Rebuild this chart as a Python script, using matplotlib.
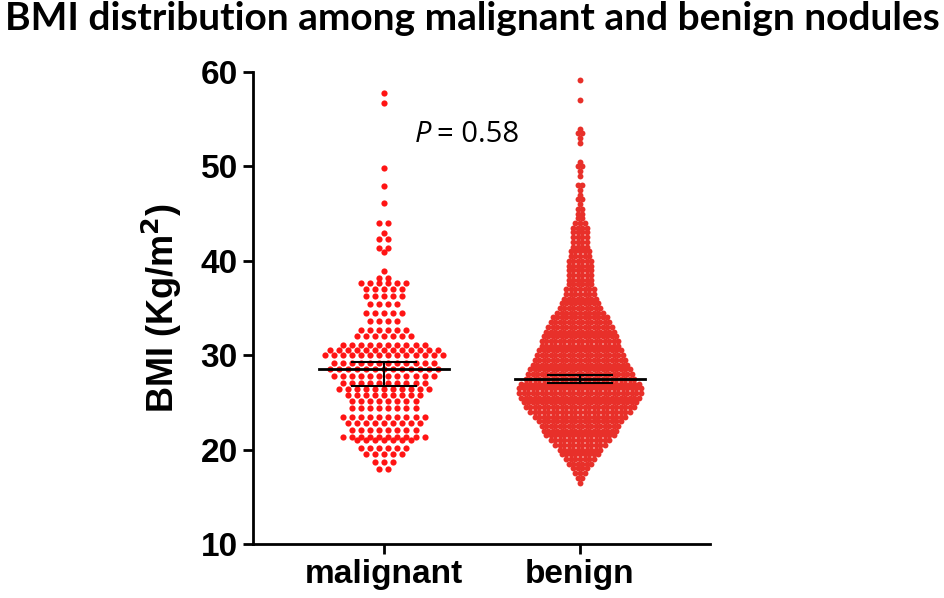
import numpy as np
from matplotlib import pyplot as plt

groups = ['malignant', 'benign']

malignant_bmi = [57.8, 56.7, 49.8, 47.9, 46.1, 44.0, 42.9, 42.3, 41.4, 40.9, 38.9, 38.2,
                 37.6, 37.0, 36.3, 35.4, 34.5, 33.6, 32.7, 32.0, 31.1, 30.6, 30.0, 29.2,
                 28.5, 27.8, 27.1, 26.4, 25.8, 25.1, 24.4, 23.5, 22.8, 22.1, 21.3, 21.0,
                 20.2, 19.5, 18.7, 17.9]
malignant_n = [1, 1, 1, 1, 1, 2, 1, 2, 2, 1, 1, 2,
               6, 5, 5, 4, 5, 4, 6, 7, 10, 13, 14, 12,
               13, 12, 10, 11, 9, 8, 8, 10, 9, 8, 10, 7,
               6, 5, 3, 2]

benign_bmi = [16.5, 17.0, 17.5, 18.0, 18.5, 19.0, 19.5, 20.0, 20.5, 21.0, 21.5, 22.0,
              22.5, 23.0, 23.5, 24.0, 24.5, 25.0, 25.5, 26.0, 26.5, 27.0, 27.5, 28.0,
              28.5, 29.0, 29.5, 30.0, 30.5, 31.0, 31.5, 32.0, 32.5, 33.0, 33.5, 34.0,
              34.5, 35.0, 35.5, 36.0, 36.5, 37.0, 37.5, 38.0, 38.5, 39.0, 39.5, 40.0,
              40.5, 41.0, 41.5, 42.0, 42.5, 43.0, 43.5, 44.0, 44.5, 45.0, 45.5, 46.0,
              46.5, 47.0, 47.5, 48.0, 49.0, 49.5, 50.0, 50.5, 52.5, 53.0, 53.5, 54.0,
              57.0, 59.2]
benign_n = [1, 2, 3, 4, 6, 7, 9, 10, 12, 14, 16, 17,
            18, 19, 21, 23, 25, 26, 27, 28, 28, 27, 25, 24,
            23, 22, 21, 20, 19, 18, 18, 17, 16, 15, 14, 13,
            11, 10, 9, 8, 7, 7, 6, 6, 6, 6, 6, 6,
            5, 5, 4, 4, 4, 4, 4, 3, 2, 2, 2, 1,
            2, 1, 1, 2, 1, 1, 2, 1, 1, 1, 2, 1,
            1, 1]

# mean line and error bar (upper, lower) as drawn
means = [28.5, 27.5]
err_hi = [29.3, 27.85]
err_lo = [26.7, 27.1]

p_text = '= 0.58'


def rows_to_points(xc, levels, counts, step):
    xs, ys = [], []
    for y, n in zip(levels, counts):
        offs = (np.arange(n) - (n - 1) / 2.0) * step
        xs.extend(xc + offs)
        ys.extend([y] * n)
    return np.array(xs), np.array(ys)


fig = plt.figure(figsize=(9.45, 5.98), dpi=100)
ax = fig.add_axes([0.2677, 0.0903, 0.4836, 0.7893])

xm, ym = rows_to_points(1, malignant_bmi, malignant_n, 0.046)
xb, yb = rows_to_points(2, benign_bmi, benign_n, 0.023)
ax.scatter(xm, ym, s=20, color='#ff1414', linewidths=0, clip_on=False, zorder=2)
ax.scatter(xb, yb, s=18, color='#e8302a', linewidths=0, clip_on=False, zorder=2)

for i, x in enumerate([1, 2]):
    ax.plot([x - 0.33, x + 0.33], [means[i], means[i]], color='black', lw=2, zorder=3)
    ax.plot([x - 0.165, x + 0.165], [err_hi[i], err_hi[i]], color='black', lw=1.5, zorder=3)
    ax.plot([x - 0.165, x + 0.165], [err_lo[i], err_lo[i]], color='black', lw=1.5, zorder=3)
    ax.plot([x, x], [err_lo[i], err_hi[i]], color='black', lw=1.5, zorder=3)

ax.set_xlim(0.332, 2.663)
ax.set_ylim(10, 60)
ax.set_yticks([10, 20, 30, 40, 50, 60])
ax.set_xticks([1, 2])
ax.set_xticklabels(groups)

for s in ['top', 'right']:
    ax.spines[s].set_visible(False)
for s in ['left', 'bottom']:
    ax.spines[s].set_linewidth(2)
ax.tick_params(width=2, length=7, labelsize=24, pad=4)
for lab in ax.get_xticklabels() + ax.get_yticklabels():
    lab.set_fontfamily('Liberation Sans')
    lab.set_fontweight('bold')

ax.set_ylabel('BMI (Kg/m$^\\mathbf{2}$)', fontsize=26, fontweight='bold',
              family='Liberation Sans', labelpad=12)

ax.text(1.158, 53.4, 'P', fontsize=21, style='italic', family='Open Sans',
        ha='left', va='center')
ax.text(1.27, 53.4, p_text, fontsize=21, family='Open Sans', ha='left', va='center')

fig.text(0.5, 0.998, 'BMI distribution among malignant and benign nodules',
         fontsize=28, fontweight='bold', family='Lato', ha='center', va='top')

fig.savefig('out.png', dpi=100)
